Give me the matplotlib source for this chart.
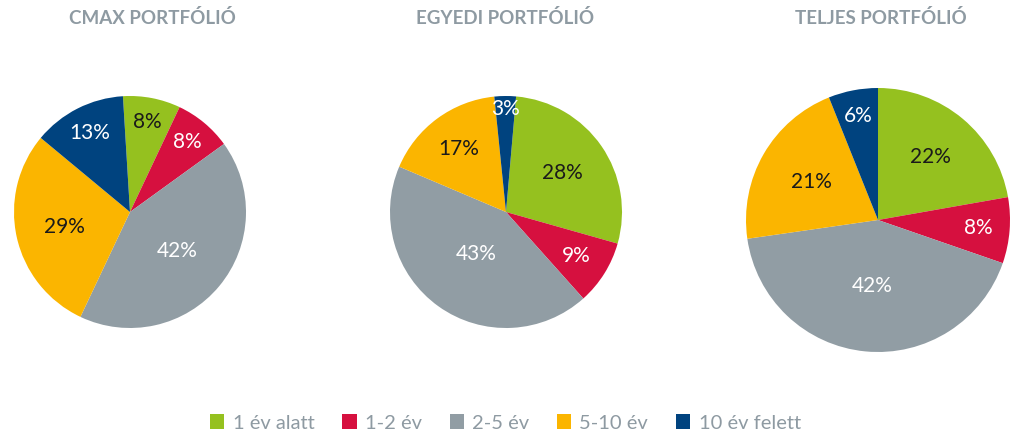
import matplotlib
matplotlib.use("Agg")
import matplotlib.pyplot as plt
from matplotlib.patches import Patch
import numpy as np

categories = ["1 év alatt", "1-2 év", "2-5 év", "5-10 év", "10 év felett"]
titles = ["CMAX PORTFÓLIÓ", "EGYEDI PORTFÓLIÓ", "TELJES PORTFÓLIÓ"]
cmax_values = [8, 8, 42, 29, 13]
egyedi_values = [28, 9, 43, 17, 3]
teljes_values = [22, 8, 42, 21, 6]

colors = ["#95C11F", "#D6103F", "#919DA4", "#FBB500", "#00437F"]
label_colors = ["#1a1a1a", "#ffffff", "#ffffff", "#1a1a1a", "#ffffff"]
title_color = "#8E9AA2"

W, H = 1011, 436
fig = plt.figure(figsize=(W / 100, H / 100), dpi=100)
ax = fig.add_axes([0, 0, 1, 1])

pies = [
    dict(values=cmax_values, center=(130, H - 212), r=116, start=93.5,
         dist=[0.79, 0.78, 0.53, 0.58, 0.76], title_x=152),
    dict(values=egyedi_values, center=(506, H - 212), r=116, start=85,
         dist=[0.59, 0.71, 0.44, 0.68, 0.89], title_x=505),
    dict(values=teljes_values, center=(878, H - 220), r=132, start=90,
         dist=[0.62, 0.76, 0.50, 0.58, 0.80], title_x=881),
]

for p, title in zip(pies, titles):
    wedges, _ = ax.pie(p["values"], colors=colors, startangle=p["start"],
                       counterclock=False, center=p["center"], radius=p["r"],
                       wedgeprops=dict(linewidth=0))
    for w, v, d, lc in zip(wedges, p["values"], p["dist"], label_colors):
        ang = np.deg2rad((w.theta1 + w.theta2) / 2)
        x = p["center"][0] + d * p["r"] * np.cos(ang)
        y = p["center"][1] + d * p["r"] * np.sin(ang)
        ax.text(x, y, f"{v}%", ha="center", va="center", color=lc,
                fontsize=15, family="Lato", fontweight="normal")
    ax.text(p["title_x"], H - 18, title, ha="center", va="center",
            color=title_color, fontsize=13.5, family="Lato", fontweight="bold")

ax.set_xlim(0, W)
ax.set_ylim(0, H)
ax.set_aspect("auto")
ax.axis("off")

handles = [Patch(facecolor=c, edgecolor="none") for c in colors]
leg = fig.legend(handles, categories, loc="center", bbox_to_anchor=(0.5, 1 - 423 / H),
                 ncol=5, frameon=False, handlelength=0.7,
                 handleheight=0.7, handletextpad=0.4, columnspacing=1.4,
                 prop=dict(family="Lato", weight="normal", size=14.5))
for t in leg.get_texts():
    t.set_color(title_color)

fig.savefig("out.png", dpi=100, facecolor="white")
